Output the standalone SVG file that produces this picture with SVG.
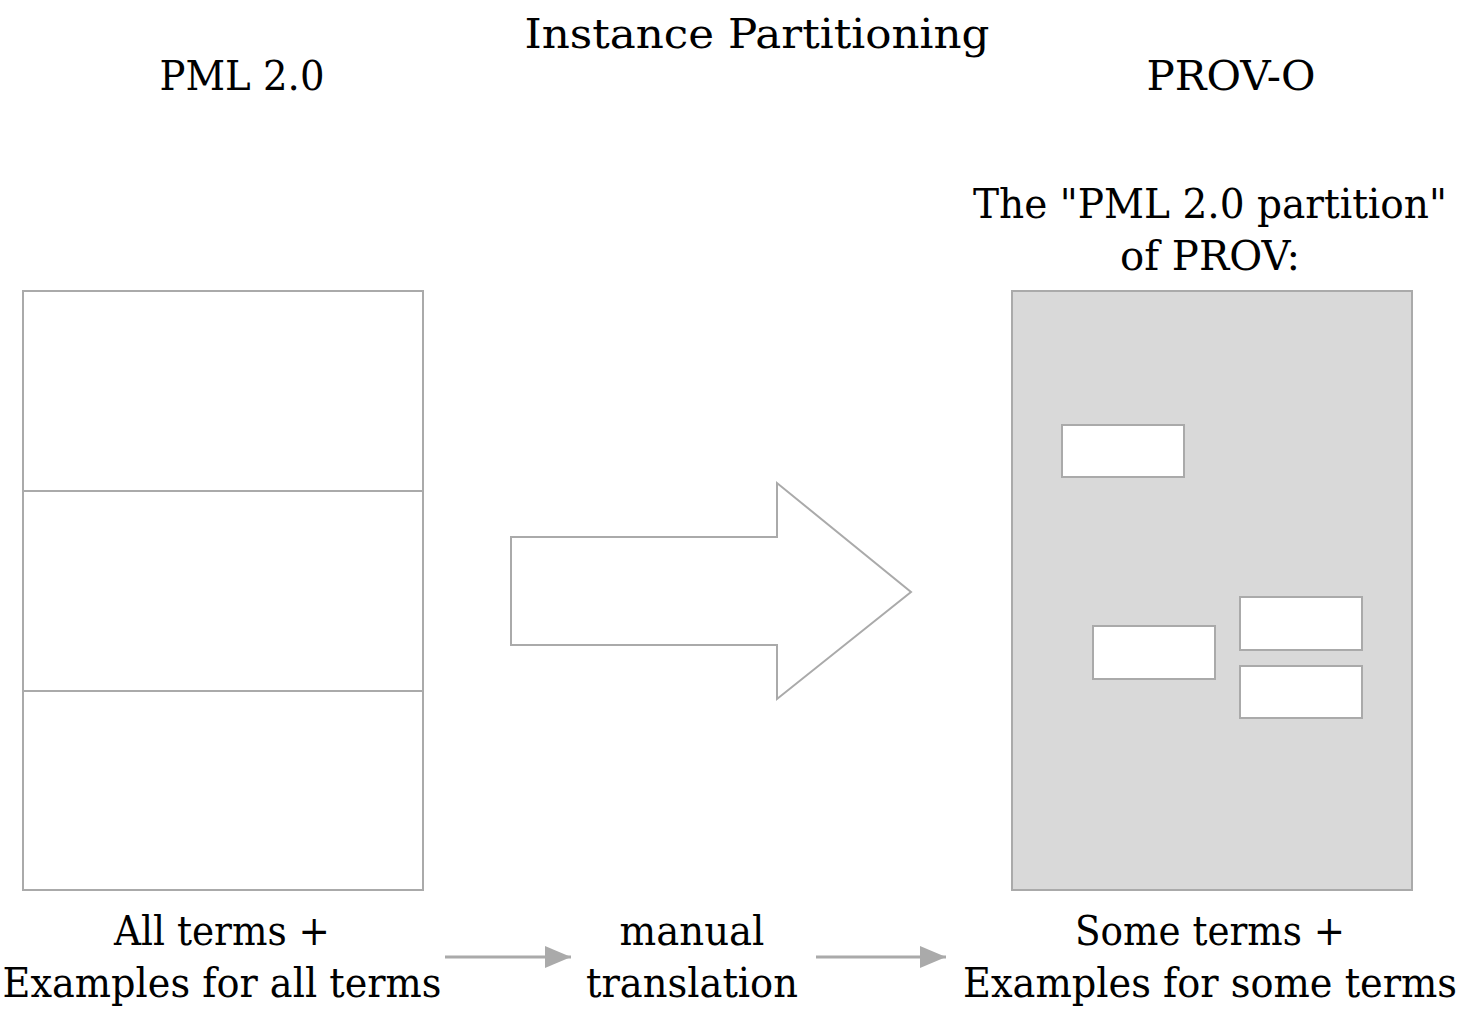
<svg xmlns="http://www.w3.org/2000/svg" width="1475" height="1011" viewBox="0 0 1475 1011">
<style>
text{font-family:"DejaVu Serif","Liberation Serif",serif;fill:#000;text-anchor:middle;font-size:41px}
.box{fill:#fff;stroke:#aaaaaa;stroke-width:2}
.conn{stroke:#aaaaaa;stroke-width:3;fill:none}
</style>
<defs>
<marker id="ah" markerUnits="userSpaceOnUse" markerWidth="26" markerHeight="22" refX="26" refY="11" orient="auto">
<path d="M0,0 L26,11 L0,22 Z" fill="#aaaaaa"/>
</marker>
</defs>
<rect width="1475" height="1011" fill="#fff"/>
<g id="title"><text x="757" y="48" font-size="46" textLength="465" lengthAdjust="spacingAndGlyphs">Instance Partitioning</text></g>
<g id="pml-label"><text x="242" y="90" textLength="165" lengthAdjust="spacingAndGlyphs">PML 2.0</text></g>
<g id="prov-label"><text x="1231" y="90" textLength="169" lengthAdjust="spacingAndGlyphs">PROV-O</text></g>
<g id="partition-label">
<text x="1210" y="218" textLength="474" lengthAdjust="spacingAndGlyphs">The "PML 2.0 partition"</text>
<text x="1210" y="270" textLength="180" lengthAdjust="spacingAndGlyphs">of PROV:</text>
</g>
<g id="pml-box">
<rect class="box" x="23" y="291" width="400" height="599"/>
<line class="conn" style="stroke-width:2" x1="23" y1="491" x2="423" y2="491"/>
<line class="conn" style="stroke-width:2" x1="23" y1="691" x2="423" y2="691"/>
</g>
<g id="prov-box">
<rect class="box" style="fill:#d9d9d9" x="1012" y="291" width="400" height="599"/>
<rect class="box" x="1062" y="425" width="122" height="52"/>
<rect class="box" x="1093" y="626" width="122" height="53"/>
<rect class="box" x="1240" y="597" width="122" height="53"/>
<rect class="box" x="1240" y="666" width="122" height="52"/>
</g>
<g id="block-arrow">
<polygon class="box" points="511,537 777,537 777,483 911,592 777,699 777,645 511,645"/>
</g>
<g id="all-terms">
<text x="222" y="945" textLength="216" lengthAdjust="spacingAndGlyphs">All terms +</text>
<text x="222" y="997" textLength="439" lengthAdjust="spacingAndGlyphs">Examples for all terms</text>
</g>
<g id="manual">
<text x="692" y="945" textLength="145" lengthAdjust="spacingAndGlyphs">manual</text>
<text x="692" y="997" textLength="212" lengthAdjust="spacingAndGlyphs">translation</text>
</g>
<g id="some-terms">
<text x="1210" y="945" textLength="270" lengthAdjust="spacingAndGlyphs">Some terms +</text>
<text x="1210" y="997" textLength="494" lengthAdjust="spacingAndGlyphs">Examples for some terms</text>
</g>
<g id="connectors">
<line class="conn" x1="445" y1="957" x2="571" y2="957" marker-end="url(#ah)"/>
<line class="conn" x1="816" y1="957" x2="946" y2="957" marker-end="url(#ah)"/>
</g>
</svg>
